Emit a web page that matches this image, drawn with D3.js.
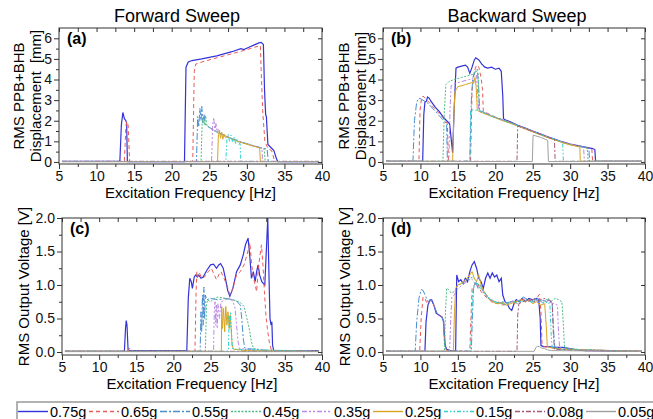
<!DOCTYPE html>
<html>
<head>
<meta charset="utf-8">
<script src="https://cdn.jsdelivr.net/npm/d3@7"></script>
<style>
  body { margin: 0; background: #fff; }
  svg { font-family: "Liberation Sans", Arial, sans-serif; }
  .tick text { font-size: 14px; fill: #111; }
  .tick line { stroke: #333; }
</style>
</head>
<body>
<svg id="chart"></svg>
<script>
// acceleration levels, one series each
const levels = ['0.75g', '0.65g', '0.55g', '0.45g', '0.35g', '0.25g', '0.15g', '0.08g', '0.05g'];

// (a) forward sweep, RMS displacement [mm] vs frequency [Hz]
const dispFwd = [
  [[5.4,0.03],[13.1,0.03],[13.3,1.8],[13.5,2.4],[13.7,2.1],[13.9,2.0],[14.0,1.9],[14.1,0.02],[21.7,0.02],[21.9,4.6],[22.2,4.85],[22.7,4.92],[24,5.0],[26,5.15],[28,5.35],[29.2,5.5],[29.6,5.45],[30.2,5.55],[31,5.68],[31.6,5.78],[31.9,5.8],[32.2,5.7],[32.35,3.5],[32.5,2.3],[32.6,2.2],[32.7,1.5],[32.8,0.85],[33.2,0.7],[33.6,0.55],[33.9,0.2],[34.1,0.02],[39.6,0.02]],
  [[5.4,0.02],[13.7,0.02],[13.9,1.7],[14.0,1.95],[14.2,1.8],[14.4,0.02],[22.8,0.02],[23.0,4.4],[23.2,4.75],[24,4.85],[26,5.05],[28,5.25],[30,5.45],[31.5,5.62],[31.8,5.65],[31.9,4.5],[32.1,2.5],[32.4,1.0],[32.8,0.65],[33.3,0.55],[33.5,0.3],[33.7,0.02],[39.6,0.02]],
  [[5.4,0.02],[23.3,0.02],[23.45,2.2],[23.6,1.7],[23.75,2.6],[23.9,2.0],[24.0,2.7],[24.15,1.9],[24.3,2.3],[24.5,1.8],[25,1.68],[26,1.46],[27,1.3],[28,1.14],[29,1.0],[30,0.89],[31,0.78],[32,0.68],[32.7,0.62],[32.85,0.02],[39.6,0.02]],
  [[5.4,0.02],[23.9,0.02],[24.05,1.9],[24.2,2.2],[24.35,1.8],[24.5,2.25],[24.7,1.75],[25,1.66],[26,1.44],[27,1.28],[28,1.12],[29,0.98],[30,0.87],[31,0.76],[32,0.66],[32.3,0.62],[32.45,0.02],[39.6,0.02]],
  [[5.4,0.02],[25.3,0.02],[25.45,1.8],[25.6,2.15],[25.75,1.5],[25.9,1.9],[26.05,1.4],[26.2,1.6],[26.4,1.4],[27,1.29],[28,1.13],[29,0.99],[30,0.88],[31,0.77],[32,0.67],[32.1,0.02],[39.6,0.02]],
  [[5.4,0.02],[26.1,0.02],[26.2,1.2],[26.35,1.55],[26.5,1.15],[26.65,1.45],[26.8,1.1],[26.95,1.35],[27.1,1.2],[27.5,1.2],[28,1.11],[29,0.97],[30,0.86],[31,0.75],[31.7,0.68],[31.8,0.02],[39.6,0.02]],
  [[5.4,0.02],[27.2,0.02],[27.35,1.1],[27.5,1.35],[27.7,1.0],[27.9,1.3],[28.1,0.95],[28.3,1.2],[28.5,0.9],[28.7,1.1],[28.9,0.85],[29.1,0.9],[29.2,0.02],[39.6,0.02]],
  [[5.4,0.03],[39.6,0.03]],
  [[5.4,0.01],[39.6,0.01]]
];

// (b) backward sweep, RMS displacement [mm]
const dispBwd = [
  [[5.4,0.03],[10.3,0.03],[10.45,2.3],[10.6,2.9],[10.8,2.95],[10.95,3.15],[11.15,3.1],[11.4,2.95],[12,2.65],[12.5,2.45],[13,2.2],[13.5,2.0],[13.9,1.85],[14.3,0.45],[14.5,2.5],[14.75,4.55],[15,4.6],[15.5,4.65],[16.0,4.7],[16.3,4.6],[16.6,4.3],[16.9,4.6],[17.2,4.95],[17.4,5.05],[17.8,4.95],[18.2,4.75],[18.6,4.6],[19,4.55],[19.5,4.6],[20,4.5],[20.5,4.55],[20.8,4.4],[21.0,3.2],[21.1,2.1],[21.3,2.05],[22,1.95],[23,1.78],[24,1.64],[25,1.5],[26,1.36],[27,1.22],[28,1.1],[29,0.97],[30,0.87],[31,0.79],[32,0.72],[33,0.65],[33.3,0.6],[33.4,0.03],[39.6,0.03]],
  [[5.4,0.03],[9.8,0.03],[9.95,2.5],[10.15,3.1],[10.35,3.2],[10.6,3.1],[11,2.95],[12,2.55],[13,2.15],[13.6,1.85],[13.75,0.03],[16.7,0.03],[16.9,3.5],[17.2,4.4],[17.5,4.7],[17.8,4.6],[18.1,4.1],[18.3,3.5],[18.4,2.45],[19,2.35],[20,2.18],[21,2.05],[22,1.92],[23,1.77],[24,1.63],[25,1.49],[26,1.35],[27,1.21],[28,1.08],[29,0.96],[30,0.86],[31,0.78],[32,0.71],[32.9,0.62],[33.0,0.03],[39.6,0.03]],
  [[5.4,0.03],[9.0,0.03],[9.2,2.0],[9.5,2.9],[9.8,3.1],[10.1,3.05],[11,2.85],[12,2.45],[13,2.05],[13.5,1.85],[13.6,0.03],[16.6,0.03],[16.8,3.0],[17.0,4.1],[17.3,4.35],[17.6,4.5],[17.8,3.5],[17.9,2.5],[19,2.32],[20,2.16],[21,2.03],[22,1.9],[23,1.76],[24,1.62],[25,1.48],[26,1.34],[27,1.2],[28,1.08],[29,0.95],[30,0.85],[31,0.77],[32,0.7],[32.5,0.65],[32.6,0.03],[39.6,0.03]],
  [[5.4,0.03],[13.0,0.03],[13.2,2.5],[13.4,3.75],[13.8,3.9],[14.5,4.0],[15.5,4.1],[16.5,4.2],[17.0,4.25],[17.4,4.45],[17.7,4.3],[17.85,2.5],[19,2.3],[20,2.15],[21,2.02],[22,1.89],[23,1.75],[24,1.61],[25,1.47],[26,1.33],[27,1.19],[28,1.07],[29,0.94],[30,0.84],[31,0.76],[32,0.69],[32.3,0.66],[32.4,0.03],[39.6,0.03]],
  [[5.4,0.03],[13.8,0.03],[13.95,2.5],[14.1,3.7],[14.5,3.8],[15.5,3.9],[16.5,4.0],[17.0,4.05],[17.5,4.2],[17.7,3.0],[17.8,2.5],[19,2.31],[20,2.16],[21,2.03],[22,1.9],[23,1.76],[24,1.62],[25,1.48],[26,1.34],[27,1.2],[28,1.07],[29,0.95],[30,0.85],[31,0.77],[31.8,0.71],[31.9,0.03],[39.6,0.03]],
  [[5.4,0.03],[14.3,0.03],[14.45,2.0],[14.6,3.4],[15,3.65],[16,3.75],[16.8,3.85],[17.1,3.8],[17.3,4.1],[17.45,3.6],[17.6,2.5],[18,2.42],[19,2.28],[20,2.14],[21,2.0],[22,1.88],[23,1.74],[24,1.6],[25,1.46],[26,1.32],[27,1.18],[28,1.06],[29,0.93],[30,0.83],[31,0.75],[31.3,0.72],[31.35,0.03],[39.6,0.03]],
  [[5.4,0.03],[16.6,0.03],[16.7,2.5],[17.0,2.52],[17.7,2.5],[18,2.45],[19,2.3],[20,2.16],[21,2.03],[22,1.9],[23,1.76],[24,1.63],[25,1.49],[26,1.35],[27,1.21],[28,1.09],[29,0.96],[29.1,0.03],[39.6,0.03]],
  [[5.4,0.03],[22.9,0.03],[23.0,1.75],[24,1.62],[25,1.48],[26,1.35],[27,1.21],[27.9,1.09],[28.0,0.03],[39.6,0.03]],
  [[5.4,0.02],[24.95,0.02],[25.05,1.3],[26,1.2],[27.0,1.05],[27.1,0.02],[39.6,0.02]]
];

// (c) forward sweep, RMS output voltage [V]
const voltFwd = [
  [[5.4,0.01],[13.4,0.01],[13.55,0.35],[13.65,0.47],[13.75,0.4],[13.9,0.02],[21.8,0.02],[22.0,0.8],[22.2,1.1],[22.4,1.05],[22.55,0.95],[22.8,1.12],[23.0,1.15],[23.2,1.12],[23.4,1.15],[23.7,1.1],[24.0,1.12],[24.5,1.22],[25.0,1.3],[25.4,1.31],[25.8,1.25],[26.1,1.3],[26.35,1.32],[26.7,1.25],[27.0,1.1],[27.3,0.92],[27.6,0.83],[28.0,0.95],[28.5,1.2],[29.0,1.3],[29.4,1.45],[29.7,1.6],[30.05,1.7],[30.3,1.4],[30.5,1.1],[30.75,1.2],[31.0,1.05],[31.2,1.2],[31.4,1.3],[31.6,1.15],[31.9,1.05],[32.3,1.0],[32.5,1.5],[32.7,2.0],[32.85,1.2],[33.0,0.5],[33.15,0.4],[33.25,0.45],[33.35,0.1],[33.5,0.02],[39.6,0.02]],
  [[5.4,0.01],[13.9,0.01],[14.1,0.06],[14.3,0.01],[22.9,0.01],[23.05,0.9],[23.15,1.2],[23.3,1.12],[23.5,1.18],[23.8,1.1],[24.2,1.12],[24.7,1.2],[25.1,1.25],[25.5,1.15],[25.8,1.08],[26.1,1.15],[26.4,1.2],[26.8,1.1],[27.2,1.0],[27.6,0.85],[28.0,0.95],[28.5,1.15],[29.0,1.2],[29.5,1.3],[29.9,1.45],[30.3,1.63],[30.5,1.35],[30.7,1.15],[30.9,1.05],[31.2,0.9],[31.4,1.2],[31.6,1.4],[31.85,1.6],[32.05,1.3],[32.25,0.9],[32.45,0.55],[32.65,0.35],[32.9,0.15],[33.2,0.02],[39.6,0.01]],
  [[5.4,0.01],[23.6,0.01],[23.7,0.6],[23.8,0.3],[23.9,0.85],[24.0,0.4],[24.1,0.97],[24.2,0.5],[24.3,0.85],[24.5,0.78],[25,0.8],[26,0.78],[27,0.8],[27.5,0.79],[28,0.78],[28.5,0.76],[29.0,0.7],[29.2,0.5],[29.4,0.2],[29.6,0.06],[30,0.05],[31,0.04],[32,0.03],[33,0.01],[39.6,0.01]],
  [[5.4,0.01],[24.3,0.01],[24.45,0.7],[24.6,0.78],[25,0.75],[25.5,0.8],[26,0.82],[27,0.8],[28,0.78],[28.5,0.76],[29,0.74],[29.5,0.68],[29.9,0.5],[30.2,0.35],[30.5,0.15],[30.8,0.05],[31.5,0.04],[32.5,0.02],[39.6,0.01]],
  [[5.4,0.01],[25.4,0.01],[25.5,0.6],[25.6,0.75],[25.7,0.4],[25.8,0.7],[25.9,0.35],[26.0,0.72],[26.2,0.5],[26.4,0.75],[27,0.78],[27.5,0.8],[28,0.76],[28.3,0.65],[28.5,0.4],[28.7,0.15],[28.9,0.05],[30,0.04],[31,0.03],[39.6,0.01]],
  [[5.4,0.01],[26.45,0.01],[26.5,0.68],[26.6,0.35],[26.75,0.65],[26.9,0.3],[27.05,0.68],[27.2,0.4],[27.35,0.6],[27.5,0.35],[27.65,0.55],[27.8,0.3],[27.9,0.1],[28.1,0.04],[29,0.03],[30,0.02],[39.6,0.01]],
  [[5.4,0.01],[27.4,0.01],[27.5,0.55],[27.6,0.35],[27.7,0.6],[27.8,0.3],[27.95,0.05],[28.5,0.04],[39.6,0.01]],
  [[5.4,0.01],[39.6,0.01]],
  [[5.4,0.005],[39.6,0.005]]
];

// (d) backward sweep, RMS output voltage [V]
const voltBwd = [
  [[5.4,0.01],[10.6,0.01],[10.75,0.45],[11.0,0.7],[11.3,0.78],[11.5,0.78],[11.8,0.7],[12.1,0.58],[12.5,0.55],[12.9,0.52],[13.1,0.45],[13.3,0.1],[13.5,0.04],[14.0,0.02],[14.7,0.01],[14.85,1.15],[15.1,1.05],[15.4,1.08],[15.7,1.02],[16.0,1.1],[16.3,1.05],[16.6,1.2],[16.9,1.3],[17.2,1.35],[17.5,1.25],[17.8,1.1],[18.1,1.05],[18.4,0.95],[18.7,1.1],[19.0,1.18],[19.3,1.1],[19.6,1.18],[19.9,1.12],[20.2,1.15],[20.5,1.05],[20.8,1.1],[21.0,0.85],[21.3,0.75],[21.6,0.72],[21.9,0.65],[22.2,0.62],[22.5,0.72],[22.8,0.78],[23.2,0.75],[23.6,0.8],[24.0,0.75],[24.5,0.8],[25.0,0.78],[25.5,0.8],[25.8,0.78],[26.0,0.5],[26.1,0.1],[26.4,0.08],[27,0.08],[28,0.07],[29,0.07],[30,0.05],[31,0.03],[32,0.02],[39.6,0.01]],
  [[5.4,0.01],[9.9,0.01],[10.1,0.5],[10.35,0.82],[10.6,0.8],[10.9,0.72],[11.3,0.77],[11.8,0.7],[12.2,0.58],[12.8,0.53],[13.1,0.45],[13.25,0.1],[13.5,0.02],[16.6,0.01],[16.75,0.5],[16.9,0.95],[17.2,1.0],[17.5,1.05],[17.8,0.98],[18.1,0.9],[18.5,0.85],[19,0.8],[19.5,0.75],[20,0.72],[20.5,0.75],[21,0.7],[21.5,0.72],[22,0.75],[22.5,0.72],[23,0.76],[23.5,0.78],[24,0.8],[24.5,0.75],[25,0.78],[25.5,0.8],[25.9,0.86],[26.1,0.6],[26.25,0.1],[26.5,0.08],[28,0.06],[30,0.04],[32,0.02],[39.6,0.01]],
  [[5.4,0.01],[9.3,0.01],[9.5,0.45],[9.8,0.8],[10.1,0.93],[10.35,0.92],[10.7,0.83],[11.0,0.75],[11.3,0.78],[11.8,0.7],[12.2,0.58],[12.8,0.53],[13.05,0.48],[13.2,0.12],[13.5,0.02],[16.8,0.01],[16.95,0.55],[17.1,0.95],[17.4,1.05],[17.7,0.95],[18,1.0],[18.4,0.9],[18.8,0.82],[19.3,0.78],[19.8,0.75],[20.3,0.72],[20.8,0.74],[21.3,0.7],[21.8,0.74],[22.3,0.76],[22.8,0.73],[23.3,0.78],[23.8,0.82],[24.3,0.77],[24.8,0.75],[25.3,0.8],[25.8,0.76],[26.3,0.78],[26.8,0.75],[27.2,0.78],[27.6,0.72],[27.8,0.3],[27.95,0.07],[29,0.06],[31,0.03],[39.6,0.01]],
  [[5.4,0.01],[13.2,0.01],[13.35,0.6],[13.5,0.95],[13.8,0.93],[14.1,0.88],[14.5,0.9],[15,1.0],[15.5,1.02],[16,1.05],[16.5,1.1],[17,1.12],[17.5,1.05],[18,0.98],[18.5,0.9],[19,0.82],[19.5,0.78],[20,0.75],[20.5,0.74],[21,0.72],[21.5,0.7],[22,0.74],[22.5,0.76],[23,0.72],[23.5,0.75],[24,0.8],[24.5,0.78],[25,0.75],[25.5,0.8],[26,0.77],[26.5,0.74],[27,0.8],[27.5,0.76],[28,0.8],[28.5,0.78],[28.9,0.75],[29.1,0.4],[29.25,0.07],[30,0.05],[32,0.03],[39.6,0.01]],
  [[5.4,0.01],[13.9,0.01],[14.05,0.5],[14.2,0.82],[14.5,0.85],[15,0.95],[15.6,1.0],[16.2,1.05],[16.8,1.1],[17.4,1.0],[18,0.95],[18.6,0.88],[19.2,0.8],[19.8,0.76],[20.4,0.73],[21,0.75],[21.6,0.72],[22.2,0.75],[22.8,0.77],[23.4,0.74],[24,0.8],[24.6,0.77],[25.2,0.74],[25.8,0.8],[26.4,0.76],[27,0.75],[27.6,0.73],[28.3,0.7],[28.45,0.3],[28.6,0.06],[30,0.04],[39.6,0.01]],
  [[5.4,0.01],[14.4,0.01],[14.55,0.6],[14.7,0.95],[15,1.0],[15.4,1.02],[15.8,1.05],[16.2,1.1],[16.6,1.15],[16.9,1.2],[17.2,1.1],[17.5,1.05],[17.8,1.15],[18.1,1.0],[18.5,0.9],[19,0.82],[19.5,0.76],[20,0.73],[20.5,0.72],[21,0.74],[21.5,0.7],[22,0.72],[22.5,0.74],[23,0.76],[23.5,0.78],[24,0.75],[24.5,0.78],[25,0.72],[25.5,0.75],[26,0.7],[26.6,0.72],[26.8,0.4],[26.95,0.08],[27.5,0.06],[29,0.04],[39.6,0.01]],
  [[5.4,0.01],[16.7,0.01],[16.85,0.5],[17.0,0.9],[17.3,1.05],[17.6,1.0],[18,0.95],[18.4,0.92],[18.8,0.85],[19.2,0.8],[19.6,0.76],[20,0.75],[20.5,0.72],[21,0.75],[21.5,0.73],[22,0.76],[22.5,0.74],[23,0.77],[23.5,0.75],[24,0.78],[24.5,0.76],[25,0.74],[25.5,0.78],[26,0.76],[26.5,0.72],[27,0.75],[27.3,0.7],[27.45,0.3],[27.6,0.06],[29,0.04],[39.6,0.01]],
  [[5.4,0.01],[22.9,0.01],[23.0,0.55],[23.15,0.72],[23.5,0.74],[24,0.76],[24.5,0.78],[25,0.76],[25.5,0.75],[26,0.78],[26.5,0.8],[27,0.78],[27.6,0.75],[27.75,0.3],[27.9,0.04],[29,0.03],[39.6,0.01]],
  [[5.4,0.01],[25.2,0.01],[25.4,0.06],[25.6,0.085],[25.9,0.08],[26.2,0.06],[26.6,0.05],[27.0,0.03],[27.5,0.02],[39.6,0.01]]
];

const colors = ['#3333d9', '#ec5a55', '#4a8fd0', '#4dbb85', '#bb8ae6', '#d9a521', '#2fd0d0', '#a85875', '#a0a0a0'];
const dashes = ['', '4,3', '7,2,2,2', '2,1.5', '5,2,2,2,2,2', '', '4,2,1.5,2,1.5,2', '5,2,2,2', ''];

const W = 653, H = 419;
const svg = d3.select('#chart').attr('width', W).attr('height', H);

function drawPanel(p) {
    const x = d3.scaleLinear().domain([5, 40]).range([p.left, p.right]);
    const y = d3.scaleLinear().domain(p.yDomain).range([p.bottom, p.top]);
    const g = svg.append('g');

    const clipId = 'clip-' + p.tag.replace(/\W/g, '');
    svg.append('clipPath').attr('id', clipId)
        .append('rect')
        .attr('x', p.left).attr('y', p.top)
        .attr('width', p.right - p.left).attr('height', p.bottom - p.top);

    const line = d3.line().x(d => x(d[0])).y(d => y(d[1]));
    g.append('g').attr('clip-path', 'url(#' + clipId + ')')
        .selectAll('path')
        .data(p.data)
        .join('path')
        .attr('d', line)
        .attr('fill', 'none')
        .attr('stroke', (d, i) => colors[i])
        .attr('stroke-width', (d, i) => i === 0 ? 1.2 : 1)
        .attr('stroke-dasharray', (d, i) => dashes[i] || null);

    const xMajor = d3.range(5, 41, 5);
    const xMinor = d3.range(7.5, 40, 5);
    const noDomain = s => s.select('.domain').remove();

    g.append('g').attr('transform', 'translate(0,' + p.bottom + ')')
        .call(d3.axisBottom(x).tickValues(xMajor).tickSize(5).tickPadding(2).tickFormat(d3.format('d')))
        .call(noDomain);
    g.append('g').attr('transform', 'translate(0,' + p.bottom + ')')
        .call(d3.axisBottom(x).tickValues(xMinor).tickSize(3).tickFormat(''))
        .call(noDomain);
    g.append('g').attr('transform', 'translate(0,' + p.top + ')')
        .call(d3.axisTop(x).tickValues(xMajor.concat(xMinor)).tickSize(-4).tickFormat(''))
        .call(noDomain);

    g.append('g').attr('transform', 'translate(' + p.left + ',0)')
        .call(d3.axisLeft(y).tickValues(p.yMajor).tickSize(5).tickPadding(2).tickFormat(p.yFmt))
        .call(noDomain);
    g.append('g').attr('transform', 'translate(' + p.left + ',0)')
        .call(d3.axisLeft(y).tickValues(p.yMinor).tickSize(3).tickFormat(''))
        .call(noDomain);
    g.append('g').attr('transform', 'translate(' + p.right + ',0)')
        .call(d3.axisRight(y).tickValues(p.yMajor).tickSize(-4).tickFormat(''))
        .call(noDomain);

    g.append('rect')
        .attr('x', p.left).attr('y', p.top)
        .attr('width', p.right - p.left).attr('height', p.bottom - p.top)
        .attr('fill', 'none').attr('stroke', '#333').attr('stroke-width', 1);

    g.append('text')
        .attr('x', p.left + 8).attr('y', p.top + 16)
        .attr('font-size', 16).attr('font-weight', 'bold')
        .text(p.tag);

    g.append('text')
        .attr('x', (p.left + p.right) / 2).attr('y', p.bottom + 34)
        .attr('text-anchor', 'middle').attr('font-size', 15)
        .text('Excitation Frequency [Hz]');

    p.yLabel.forEach((t, k) => {
        g.append('text')
            .attr('transform', 'translate(' + p.yLabelX[k] + ',' + (p.top + p.bottom) / 2 + ') rotate(-90)')
            .attr('text-anchor', 'middle').attr('font-size', 15)
            .style('white-space', 'pre')
            .text(t);
    });
}

const dispTicks = d3.range(0, 7, 1);
const dispMinor = d3.range(0.5, 6.5, 1);
const voltTicks = [0, 0.5, 1.0, 1.5, 2.0];
const voltMinor = [0.25, 0.75, 1.25, 1.75];

drawPanel({ tag: '(a)', left: 59, right: 322, top: 28, bottom: 164, yDomain: [-0.1, 6.5],
    yMajor: dispTicks, yMinor: dispMinor, yFmt: d3.format('d'), data: dispFwd,
    yLabel: ['RMS PPB+BHB', 'Displacement  [mm]'], yLabelX: [24, 41] });
drawPanel({ tag: '(b)', left: 383, right: 645, top: 28, bottom: 164, yDomain: [-0.1, 6.5],
    yMajor: dispTicks, yMinor: dispMinor, yFmt: d3.format('d'), data: dispBwd,
    yLabel: ['RMS PPB+BHB', 'Displacement [mm]'], yLabelX: [349, 366] });
drawPanel({ tag: '(c)', left: 62, right: 322, top: 218, bottom: 355, yDomain: [-0.045, 2.0],
    yMajor: voltTicks, yMinor: voltMinor, yFmt: d3.format('.1f'), data: voltFwd,
    yLabel: ['RMS Output Voltage [V]'], yLabelX: [29] });
drawPanel({ tag: '(d)', left: 383, right: 645, top: 218, bottom: 355, yDomain: [-0.045, 2.0],
    yMajor: voltTicks, yMinor: voltMinor, yFmt: d3.format('.1f'), data: voltBwd,
    yLabel: ['RMS Output Voltage [V]'], yLabelX: [350] });

svg.append('text').attr('x', 177).attr('y', 22).attr('text-anchor', 'middle')
    .attr('font-size', 18).text('Forward Sweep');
svg.append('text').attr('x', 517).attr('y', 22).attr('text-anchor', 'middle')
    .attr('font-size', 18).text('Backward Sweep');

// legend strip along the bottom edge
const legend = svg.append('g');
legend.append('rect')
    .attr('x', 17).attr('y', 402).attr('width', 700).attr('height', 40)
    .attr('fill', '#fff').attr('stroke', '#999').attr('stroke-width', 1.5);
levels.forEach((lv, i) => {
    const x0 = 18 + i * 71;
    legend.append('path')
        .attr('d', 'M' + x0 + ',411.5H' + (x0 + 30))
        .attr('fill', 'none')
        .attr('stroke', colors[i])
        .attr('stroke-width', 1.4)
        .attr('stroke-dasharray', dashes[i] || null);
    legend.append('text')
        .attr('x', x0 + 32).attr('y', 417)
        .attr('font-size', 14.5)
        .text(lv);
});
</script>
</body>
</html>
